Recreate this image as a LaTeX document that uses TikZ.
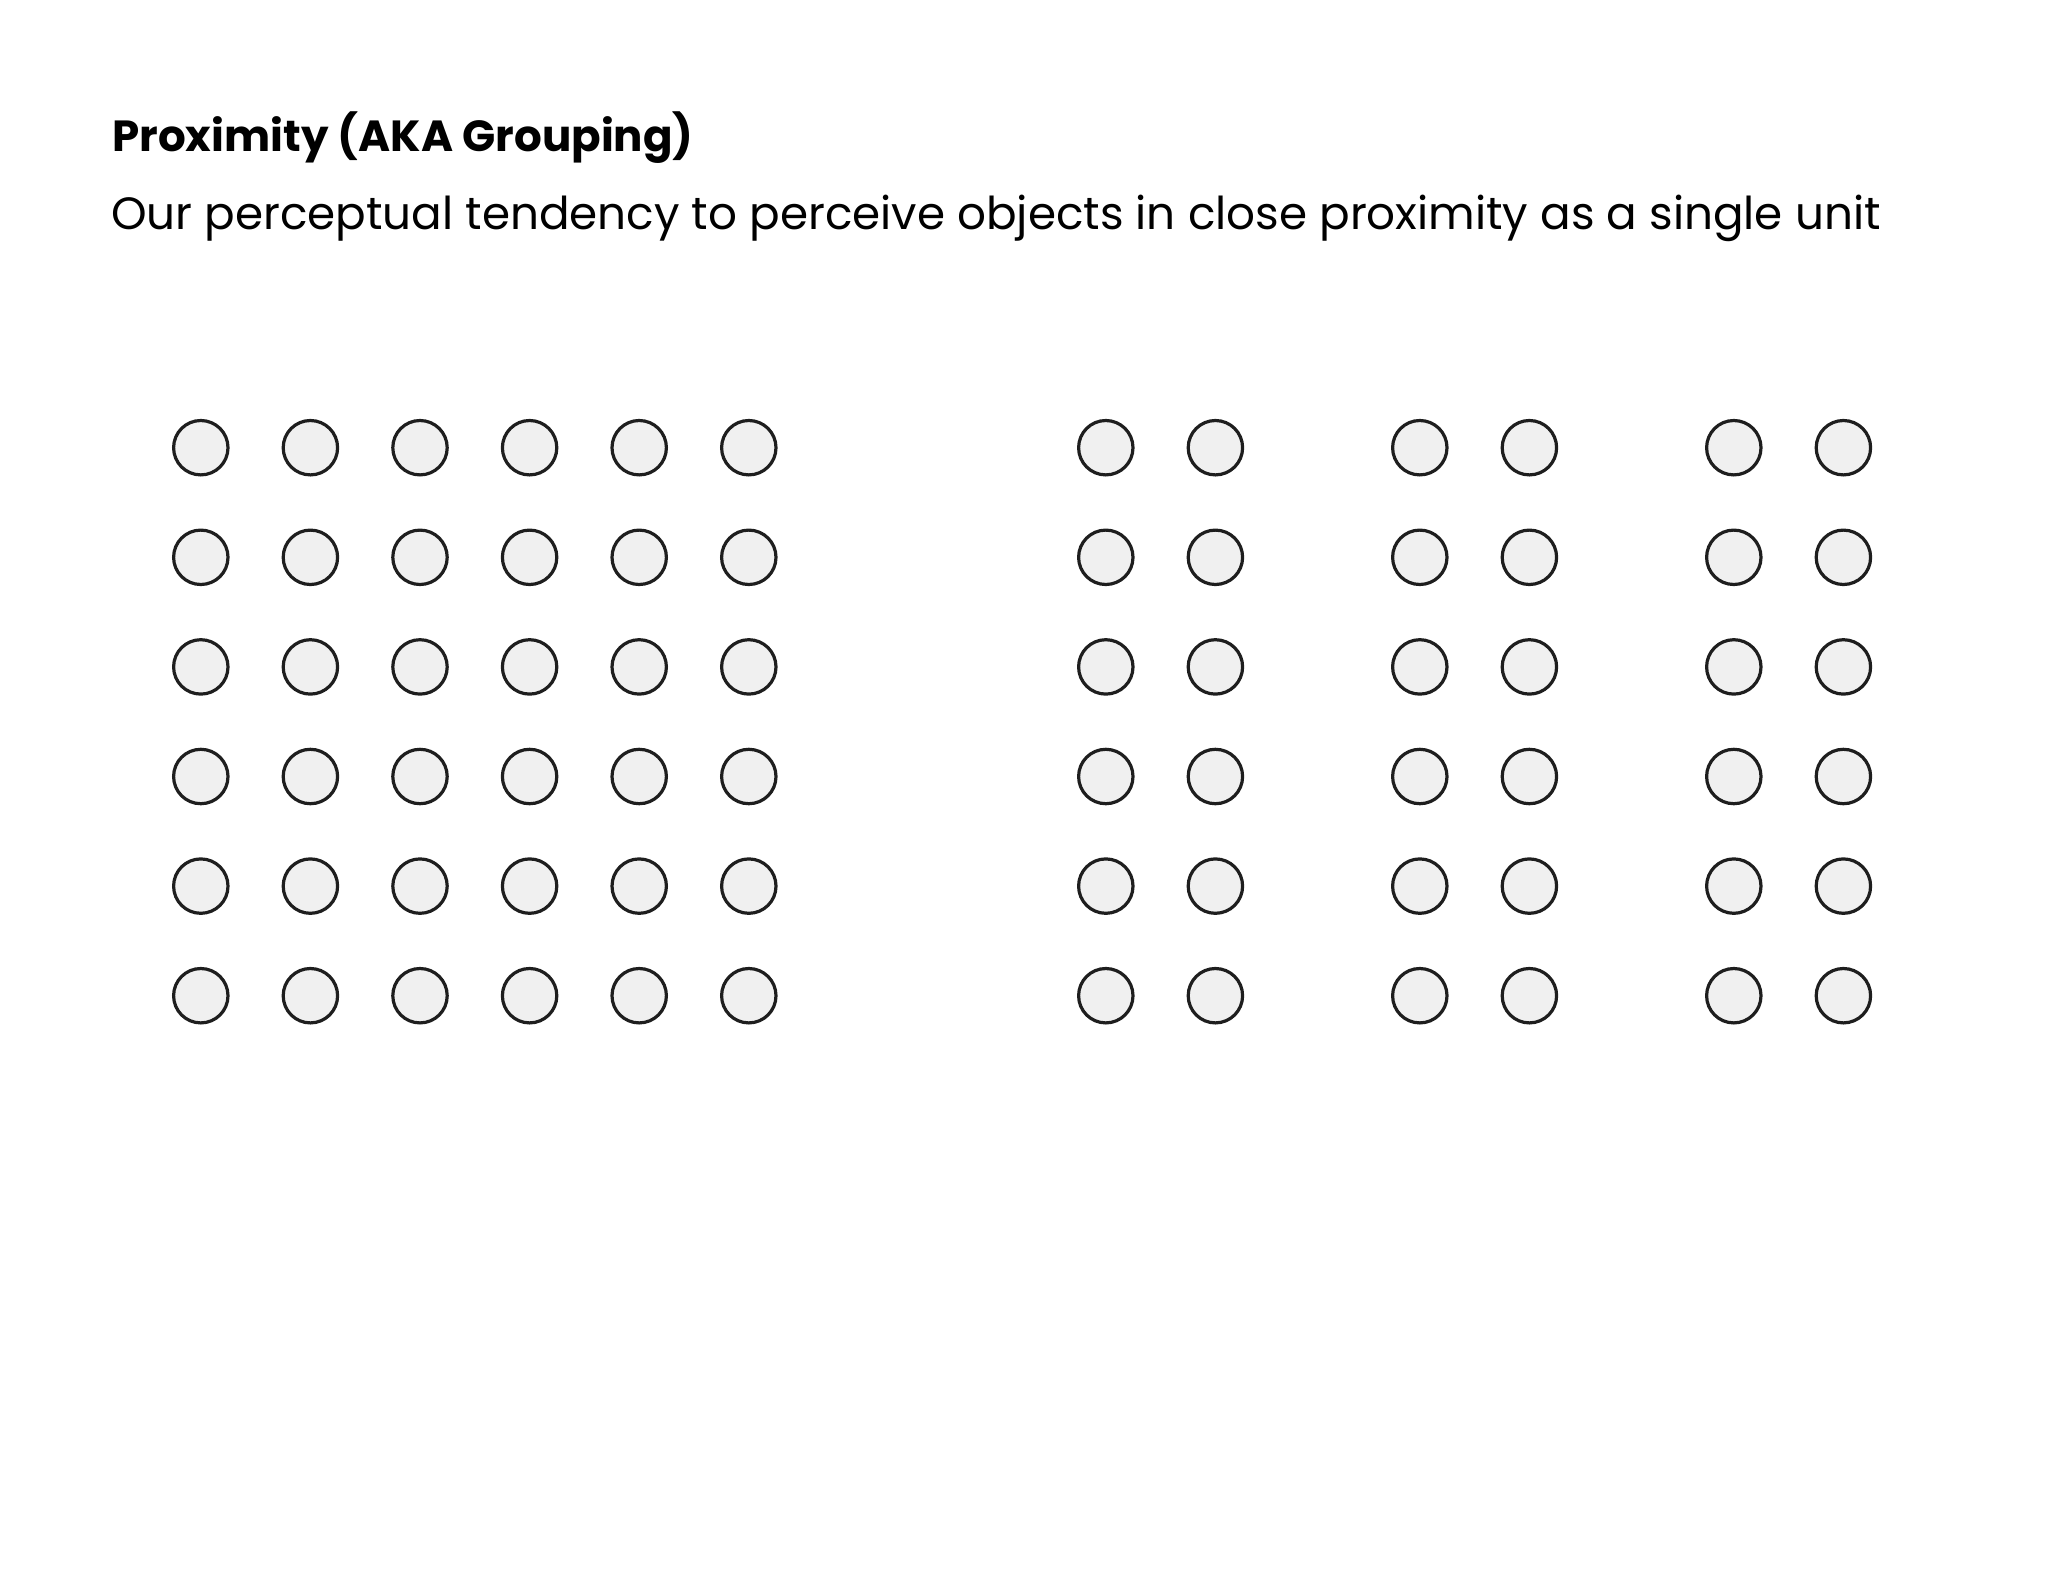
\documentclass[tikz,border=0pt]{standalone}
\usepackage{fontspec}
\setmainfont{Poppins}
\definecolor{dotfill}{HTML}{F0F0F0}
\definecolor{dotline}{HTML}{1E1E1E}
\begin{document}
\begin{tikzpicture}[x=0.25mm,y=-0.25mm,
  dot/.style={circle,draw=dotline,fill=dotfill,line width=0.8mm,minimum size=13.6mm,inner sep=0pt},
  txt/.style={anchor=base west,inner sep=0pt,text=black}]
\useasboundingbox (0,0) rectangle (2048,1582);
\node[txt,font=\fontsize{31pt}{36pt}\selectfont\bfseries] (title) at (112,151.7) {Proximity (AKA Grouping)};
\node[txt,font=\fontsize{32.2pt}{38pt}\selectfont] (sub) at (111,229.3) {Our perceptual tendency to perceive objects in close proximity as a single unit};
\foreach \r in {0,...,5}{
  \foreach \c in {0,...,5}{
    \node[dot] (L-\r-\c) at ({200.8+109.6*\c},{447.7+109.6*\r}) {};
  }
  \foreach \g in {0,1,2}{
    \foreach \c in {0,1}{
      \node[dot] (R-\g-\r-\c) at ({1105.8+314*\g+109.6*\c},{447.7+109.6*\r}) {};
    }
  }
}
\end{tikzpicture}
\end{document}
